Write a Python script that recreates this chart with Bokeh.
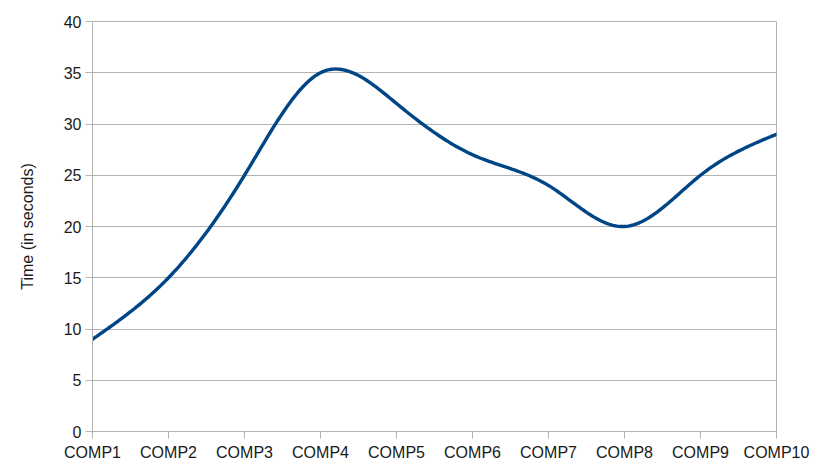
import numpy as np
from bokeh.plotting import figure
from bokeh.models import FixedTicker, Range1d
from bokeh.embed import file_html
from bokeh.resources import INLINE

categories = ["COMP1", "COMP2", "COMP3", "COMP4", "COMP5",
              "COMP6", "COMP7", "COMP8", "COMP9", "COMP10"]
times = [9, 15, 25, 35, 32, 27, 24, 20, 25, 29]
y_ticks = [0, 5, 10, 15, 20, 25, 30, 35, 40]


def natural_spline(xs, ys, n=40):
    xs = np.asarray(xs, float)
    ys = np.asarray(ys, float)
    m = len(xs)
    h = np.diff(xs)
    A = np.zeros((m, m))
    b = np.zeros(m)
    A[0, 0] = 1
    A[-1, -1] = 1
    for i in range(1, m - 1):
        A[i, i - 1] = h[i - 1]
        A[i, i] = 2 * (h[i - 1] + h[i])
        A[i, i + 1] = h[i]
        b[i] = 6 * ((ys[i + 1] - ys[i]) / h[i] - (ys[i] - ys[i - 1]) / h[i - 1])
    M = np.linalg.solve(A, b)
    out_x, out_y = [], []
    for i in range(m - 1):
        t = np.linspace(xs[i], xs[i + 1], n, endpoint=(i == m - 2))
        a = xs[i + 1] - t
        c = t - xs[i]
        yv = (M[i] * a ** 3 / (6 * h[i]) + M[i + 1] * c ** 3 / (6 * h[i])
              + (ys[i] / h[i] - M[i] * h[i] / 6) * a
              + (ys[i + 1] / h[i] - M[i + 1] * h[i] / 6) * c)
        out_x.extend(t)
        out_y.extend(yv)
    return out_x, out_y


xpos = list(range(len(categories)))
sx, sy = natural_spline(xpos, times)

p = figure(width=816, height=464, output_backend="svg", toolbar_location=None,
           x_range=Range1d(0, len(categories) - 1), y_range=Range1d(0, 40),
           min_border_left=92, min_border_right=40, min_border_top=21,
           min_border_bottom=33)
p.background_fill_color = "white"
p.border_fill_color = "white"
p.outline_line_color = "#b3b3b3"
p.outline_line_width = 1

p.line(sx, sy, line_color="#004586", line_width=3.4, line_join="round", line_cap="round")

p.xaxis.ticker = FixedTicker(ticks=xpos)
p.xaxis.major_label_overrides = {i: c for i, c in enumerate(categories)}
p.yaxis.ticker = FixedTicker(ticks=y_ticks)
p.yaxis.axis_label = "Time (in seconds)"

for ax in (p.xaxis[0], p.yaxis[0]):
    ax.axis_line_color = "#b3b3b3"
    ax.major_tick_line_color = "#b3b3b3"
    ax.major_tick_in = 0
    ax.major_tick_out = 7
    ax.minor_tick_line_color = None
    ax.major_label_text_font = "Liberation Sans"
    ax.major_label_text_font_size = "16px"
    ax.major_label_text_color = "#1a1a1a"

p.xaxis.major_label_standoff = 5
p.yaxis.major_label_standoff = 4
p.yaxis.axis_label_text_font = "Liberation Sans"
p.yaxis.axis_label_text_font_size = "16px"
p.yaxis.axis_label_text_font_style = "normal"
p.yaxis.axis_label_text_color = "#1a1a1a"
p.yaxis.axis_label_standoff = 25

p.xgrid.grid_line_color = None
p.ygrid.grid_line_color = "#b3b3b3"
p.ygrid.grid_line_width = 1

open("out.html", "w").write(file_html(p, INLINE))
